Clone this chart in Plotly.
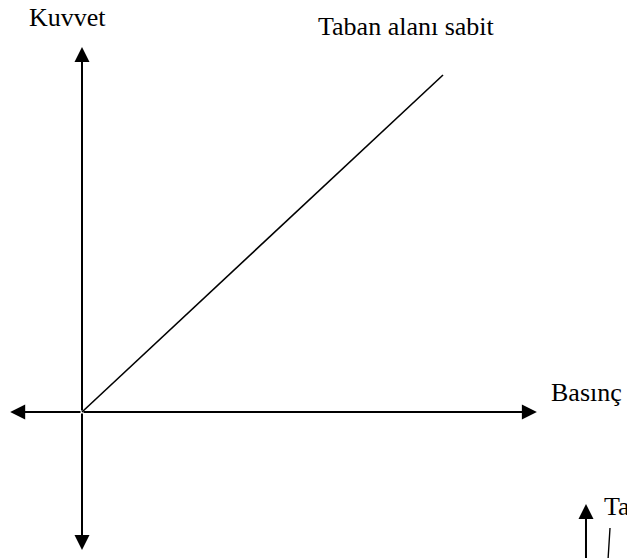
import plotly.graph_objects as go

# ---- data (conceptual: force grows linearly with pressure at constant base area)
basinc = [0, 1]          # pressure (x)
kuvvet = [0, 1]          # force (y)
x_label = "Basınç"
y_label = "Kuvvet"
line_label = "Taban alanı sabit"

# axis arrow extents in data units
x_axis_ends = [-0.199, 1.260]
y_axis_ends = [-0.4095, 1.083]

# second (cut-off) diagram in lower right
second_axis_x = 1.3961
second_axis_ends = [-0.47, -0.273]
second_curve_x = [1.4626, 1.4571]
second_curve_y = [-0.3442, -0.4392]

FONT = "Liberation Serif, Times New Roman, serif"
FS = 26

fig = go.Figure()
fig.add_trace(go.Scatter(x=basinc, y=kuvvet, mode="lines",
                         line=dict(color="black", width=1.6),
                         hoverinfo="skip"))
fig.add_trace(go.Scatter(x=second_curve_x, y=second_curve_y, mode="lines",
                         line=dict(color="black", width=1.4),
                         hoverinfo="skip"))

arrow = dict(showarrow=True, arrowhead=2, arrowsize=1.5, arrowwidth=2,
             arrowcolor="black", text="", axref="x", ayref="y",
             xref="x", yref="y", standoff=0, startstandoff=0)
anns = [
    dict(x=x_axis_ends[1], y=0, ax=0, ay=0, **arrow),
    dict(x=x_axis_ends[0], y=0, ax=0, ay=0, **arrow),
    dict(x=0, y=y_axis_ends[1], ax=0, ay=0, **arrow),
    dict(x=0, y=y_axis_ends[0], ax=0, ay=0, **arrow),
    dict(x=second_axis_x, y=second_axis_ends[1], ax=second_axis_x,
         ay=second_axis_ends[0], **arrow),
]
txt = dict(showarrow=False, xref="x", yref="y",
           font=dict(family=FONT, size=FS, color="black"))
anns += [
    dict(text=y_label, x=-0.039, y=1.172, xanchor="center", yanchor="middle", **txt),
    dict(text=line_label, x=0.8975, y=1.145, xanchor="center", yanchor="middle", **txt),
    dict(text=x_label, x=1.2935, y=0.058, xanchor="left", yanchor="middle", **txt),
    dict(text=line_label, x=1.44, y=-0.28, xanchor="left", yanchor="middle", **txt),
]

fig.update_layout(
    width=627, height=558,
    margin=dict(l=0, r=0, t=0, b=0),
    paper_bgcolor="white", plot_bgcolor="white",
    showlegend=False,
    xaxis=dict(range=[-82 / 361, 545 / 361], visible=False, fixedrange=True),
    yaxis=dict(range=[-146 / 337, 412 / 337], visible=False, fixedrange=True),
    annotations=anns,
)

fig.write_html("out.html", post_script="document.body.style.margin='0';",
               config={"displayModeBar": False})
